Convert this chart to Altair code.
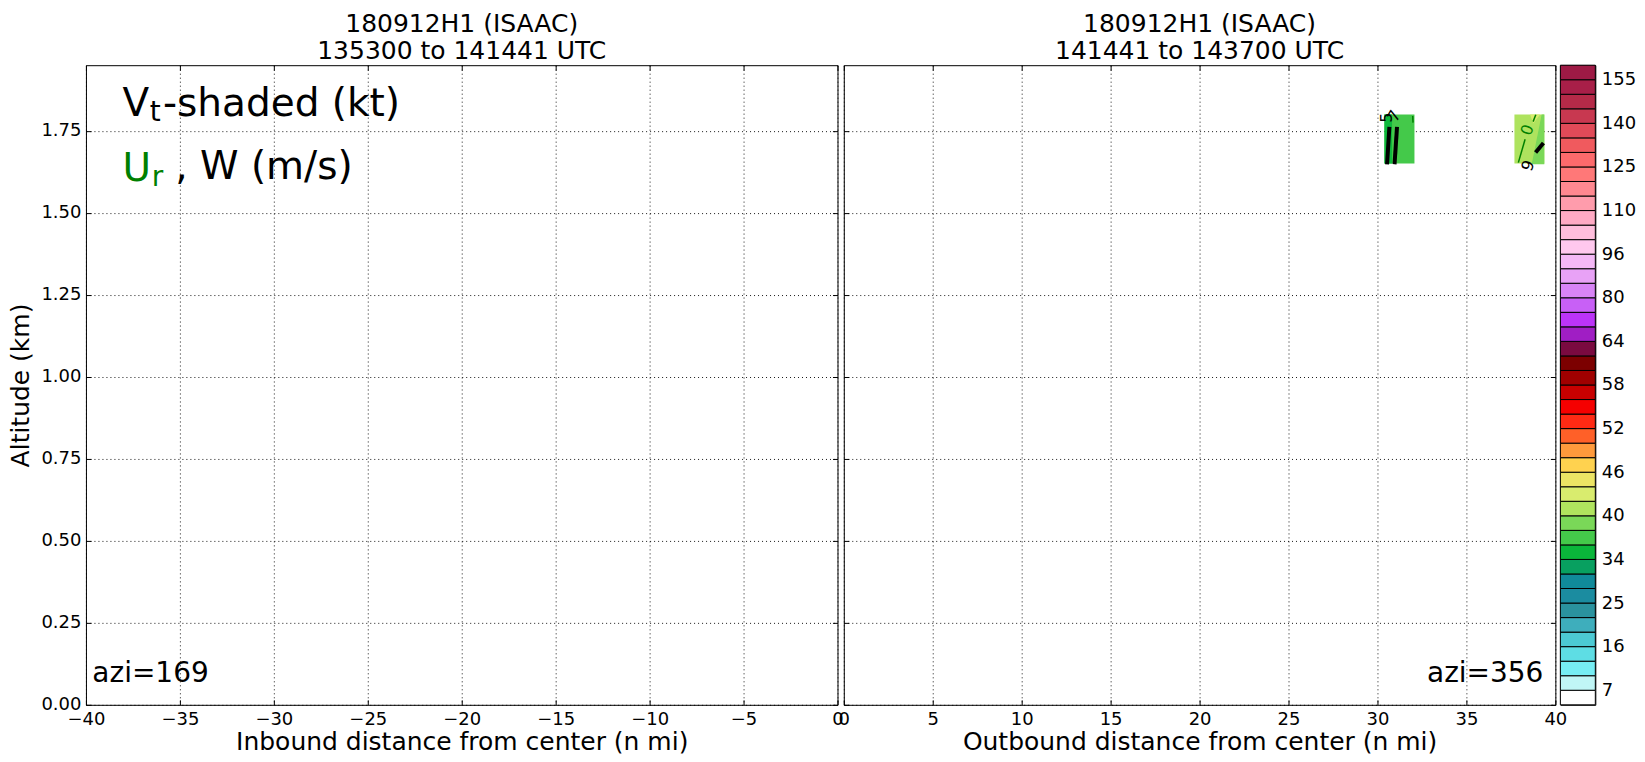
import altair as alt
import pandas as pd

FONT = "DejaVu Sans"
W_L, W_R, H = 752, 712, 640
CB_W = 35

# ---------------- data ----------------
left_xticks = [-40, -35, -30, -25, -20, -15, -10, -5, 0]
right_xticks = [0, 5, 10, 15, 20, 25, 30, 35, 40]
yticks = [0.0, 0.25, 0.5, 0.75, 1.0, 1.25, 1.5, 1.75]
y_domain = [0, 1.95]

left_title = ["180912H1 (ISAAC)", "135300 to 141441 UTC"]
right_title = ["180912H1 (ISAAC)", "141441 to 143700 UTC"]

# colorbar boxes, bottom to top
cb_colors = [
    "#ffffff", "#c0f6f6", "#76eef4", "#5edde4", "#4ccad4", "#3eaebc",
    "#2a929e", "#1b8ca0", "#108a9a", "#08a060", "#0ab63a", "#44c94a",
    "#7ad858", "#b0e45e", "#d9ec6e", "#ece464", "#ffd24f", "#ff9a3c",
    "#ff6028", "#ff2a14", "#f50000", "#c80000", "#a00000", "#7c0000",
    "#7a0a40", "#a01ec4", "#bc34f8", "#c860f6", "#d884f6", "#e8a2f6",
    "#f4b8f6", "#ffc8ee", "#ffbedc", "#ffaac4", "#ff9cac", "#ff8890",
    "#ff7878", "#fc6a6c", "#f05a5e", "#e04a58", "#c83850", "#b52a48",
    "#a81f48", "#9e1a45",
]
cb_labels = ["7", "16", "25", "34", "40", "46", "52", "58", "64", "80",
             "96", "110", "125", "140", "155"]
cb_label_pos = [1, 4, 7, 10, 13, 16, 19, 22, 25, 28, 31, 34, 37, 40, 43]

# shaded cells on the outbound leg (x in n mi, y in km)
cell_x = [30.39, 30.39, 37.70]
cell_x2 = [32.08, 30.82, 39.38]
cell_y = [1.65, 1.65, 1.65]
cell_y2 = [1.80, 1.80, 1.80]
cell_c = ["#44c94a", "#0fb83c", "#aee35e"]

# shaded sub-regions of the second cell
tri_shape = ["dark", "dark", "yellow", "yellow"]
tri_y = [1.648, 1.80, 1.772, 1.80]
tri_x = [38.67, 39.23, 38.76, 38.58]
tri_x2 = [39.38, 39.38, 38.76, 39.14]
tri_c = ["#7ad858", "#7ad858", "#d9ec6e", "#d9ec6e"]

# W contours (black, thick)
w_id = [0, 0, 1, 1, 2, 2]
w_k = [0, 1, 0, 1, 0, 1]
w_x = [30.67, 30.54, 31.10, 30.96, 39.33, 38.89]
w_y = [1.762, 1.648, 1.762, 1.648, 1.713, 1.684]

# Ur contours (green, thin)
u_id = [0, 0, 1, 1, 2, 2]
u_k = [0, 1, 0, 1, 0, 1]
u_x = [31.98, 32.00, 38.90, 38.75, 38.30, 37.92]
u_y = [1.795, 1.775, 1.799, 1.778, 1.724, 1.653]

# contour labels
cl_text = ["5", "7", "0", "9"]
cl_x = [30.55, 30.95, 38.44, 38.48]
cl_y = [1.79, 1.795, 1.752, 1.643]
cl_angle = [270, 300, 290, 290]
cl_color = ["black", "black", "#008000", "black"]

# header annotation (left panel)
ann_text = ["V", "t", "-shaded (kt)", "U", "r", ", W (m/s)", "azi=169"]
ann_x = [-38.05, -36.60, -35.90, -38.05, -36.50, -35.25, -39.66]
ann_y = [1.795, 1.781, 1.795, 1.597, 1.583, 1.602, 0.068]
ann_size = [39, 28, 39, 39, 28, 39, 28]
ann_color = ["black", "black", "black", "#008000", "#008000", "black", "black"]

# ---------------- helpers ----------------
GRID = dict(grid=True, gridColor="black", gridDash=[1, 3], gridWidth=1, gridOpacity=0.9)


def panel(xdom, xvals, xtitle, width, ylabels, marks, title):
    dummy = pd.DataFrame({"x": [xdom[0]], "y": [0.0]})
    xs = alt.Scale(domain=xdom, nice=False, zero=False)
    ys = alt.Scale(domain=y_domain, nice=False, zero=False)
    main = alt.Chart(dummy).mark_point(opacity=0).encode(
        x=alt.X("x:Q", scale=xs, axis=alt.Axis(
            values=xvals, format="d", title=xtitle, ticks=False, domain=False,
            labelFlush=False, labelPadding=6, labelFontSize=18, labelColor="black",
            titleFontSize=25, titleFontWeight="normal", titleColor="black",
            titlePadding=1, labelOverlap=False, **GRID)),
        y=alt.Y("y:Q", scale=ys, axis=alt.Axis(
            values=yticks, format=".2f", title="Altitude (km)" if ylabels else None,
            labels=ylabels, ticks=False, domain=False, labelPadding=5,
            labelFontSize=18, labelColor="black", titleFontSize=25,
            titleFontWeight="normal", titleColor="black", titlePadding=7,
            labelFlush=False, labelOverlap=False, **GRID)),
    )
    tk = dict(labels=False, title=None, grid=False, domain=False, ticks=True,
              tickSize=5, tickColor="black", tickWidth=1)
    ticks_a = alt.Chart(dummy).mark_point(opacity=0).encode(
        x=alt.X("x:Q", scale=xs, axis=alt.Axis(orient="top", offset=-H, values=xvals, **tk)),
        y=alt.Y("y:Q", scale=ys, axis=alt.Axis(orient="right", offset=-width, values=yticks, **tk)),
    )
    ticks_b = alt.Chart(dummy).mark_point(opacity=0).encode(
        x=alt.X("x:Q", scale=xs, axis=alt.Axis(orient="bottom", offset=-H, values=xvals, **tk)),
        y=alt.Y("y:Q", scale=ys, axis=alt.Axis(orient="left", offset=-width, values=yticks, **tk)),
    )
    return alt.layer(main, ticks_a, ticks_b, *marks).resolve_axis(
        x="independent", y="independent"
    ).properties(
        width=width, height=H,
        title=alt.TitleParams(text=title, fontSize=25, fontWeight="normal", font=FONT,
                              color="black", anchor="middle", offset=1, lineHeight=27),
    )


NX = dict(axis=None)

# ---------------- left panel marks ----------------
ann_df = pd.DataFrame({"t": ann_text, "x": ann_x, "y": ann_y, "s": ann_size, "c": ann_color})
left_text = alt.Chart(ann_df).mark_text(align="left", baseline="alphabetic", font=FONT).encode(
    x=alt.X("x:Q", **NX), y=alt.Y("y:Q", **NX), text="t:N",
    size=alt.Size("s:Q", scale=None), color=alt.Color("c:N", scale=None),
)

left = panel([-40, 0], left_xticks, "Inbound distance from center (n mi)", W_L, True,
             [left_text], left_title)

# ---------------- right panel marks ----------------
cells = pd.DataFrame({"x": cell_x, "x2": cell_x2, "y": cell_y, "y2": cell_y2, "c": cell_c})
cell_layer = alt.Chart(cells).mark_rect().encode(
    x=alt.X("x:Q", **NX), x2="x2:Q", y=alt.Y("y:Q", **NX), y2="y2:Q",
    color=alt.Color("c:N", scale=None),
)
tri = pd.DataFrame({"shape": tri_shape, "y": tri_y, "x": tri_x, "x2": tri_x2, "c": tri_c})
tri_layer = alt.Chart(tri).mark_area(orient="horizontal").encode(
    y=alt.Y("y:Q", **NX), x=alt.X("x:Q", **NX), x2="x2:Q",
    color=alt.Color("c:N", scale=None), detail="shape:N",
)
wdf = pd.DataFrame({"id": w_id, "k": w_k, "x": w_x, "y": w_y})
w_layer = alt.Chart(wdf).mark_line(color="black", strokeWidth=4).encode(
    x=alt.X("x:Q", **NX), y=alt.Y("y:Q", **NX), detail="id:N", order="k:Q",
)
udf = pd.DataFrame({"id": u_id, "k": u_k, "x": u_x, "y": u_y})
u_layer = alt.Chart(udf).mark_line(color="#008000", strokeWidth=1.5).encode(
    x=alt.X("x:Q", **NX), y=alt.Y("y:Q", **NX), detail="id:N", order="k:Q",
)
cl = pd.DataFrame({"t": cl_text, "x": cl_x, "y": cl_y, "a": cl_angle, "c": cl_color})
cl_layer = alt.Chart(cl).mark_text(fontSize=16, font=FONT).encode(
    x=alt.X("x:Q", **NX), y=alt.Y("y:Q", **NX), text="t:N",
    angle=alt.Angle("a:Q", scale=None), color=alt.Color("c:N", scale=None),
)
azi_r = pd.DataFrame({"t": ["azi=356"], "x": [39.33], "y": [0.068]})
azi_layer = alt.Chart(azi_r).mark_text(align="right", baseline="alphabetic", fontSize=28,
                                       font=FONT, color="black").encode(
    x=alt.X("x:Q", **NX), y=alt.Y("y:Q", **NX), text="t:N",
)

right = panel([0, 40], right_xticks, "Outbound distance from center (n mi)", W_R, False,
              [cell_layer, tri_layer, w_layer, u_layer, cl_layer, azi_layer], right_title)

# ---------------- colorbar ----------------
cb_df = pd.DataFrame({"lo": list(range(len(cb_colors))),
                      "hi": list(range(1, len(cb_colors) + 1)),
                      "c": cb_colors})
lab_arr = "[" + ",".join("'%s'" % s for s in cb_labels) + "]"
cbar = alt.Chart(cb_df).mark_rect(stroke="black", strokeWidth=1).encode(
    x=alt.value(0), x2=alt.value(CB_W),
    y=alt.Y("lo:Q", scale=alt.Scale(domain=[0, len(cb_colors)], nice=False, zero=False),
            axis=alt.Axis(orient="right", values=cb_label_pos,
                          labelExpr=lab_arr + "[(datum.value-1)/3]",
                          ticks=False, domain=False, grid=False, title=None,
                          labelFontSize=18, labelColor="black", labelPadding=6)),
    y2="hi:Q",
    color=alt.Color("c:N", scale=None),
).properties(width=CB_W, height=H)

right_group = alt.hconcat(right, cbar, spacing=5, bounds="flush")
chart = alt.hconcat(left, right_group, spacing=6.3, bounds="flush").properties(
    padding={"left": 0, "top": 3, "right": 0, "bottom": 0}
).configure(font=FONT).configure_view(stroke="black", strokeWidth=1)

chart.save("out.html", embed_options={"renderer": "svg", "actions": False})
